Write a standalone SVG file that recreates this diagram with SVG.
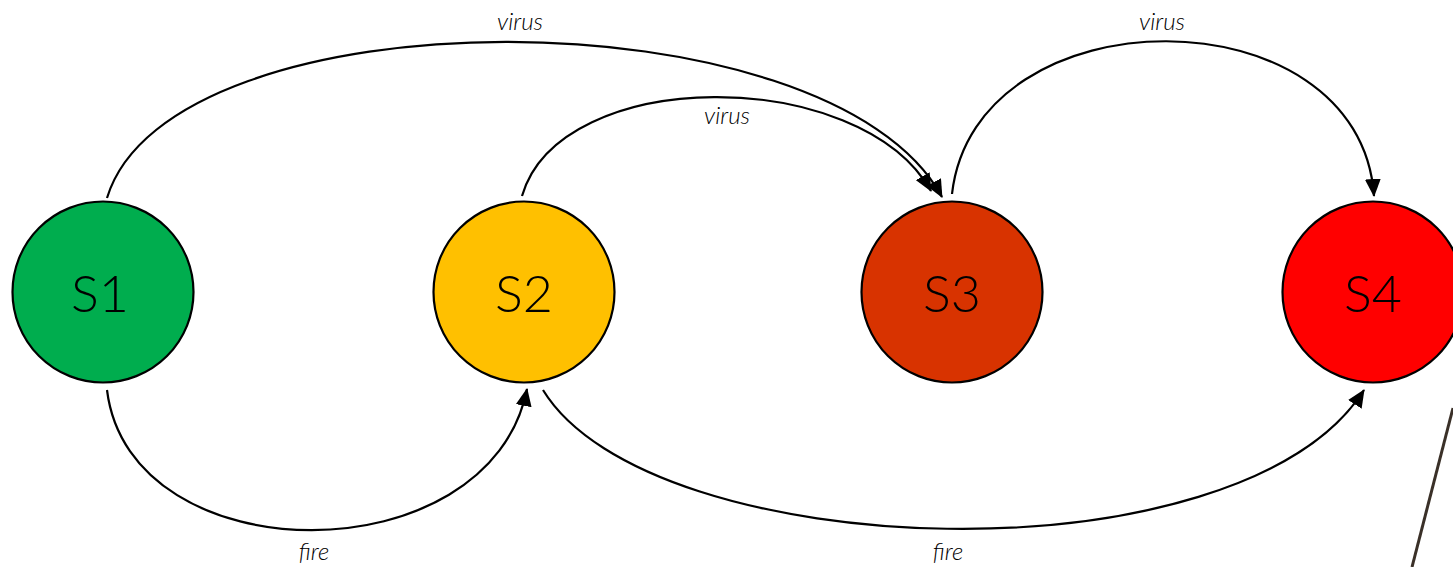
<svg xmlns="http://www.w3.org/2000/svg" width="1453" height="567" viewBox="0 0 1453 567">
<style>
.node{stroke:#000;stroke-width:2.2}
.lbl{font-family:"Lato","Liberation Sans",sans-serif;font-size:52px;fill:#000;text-anchor:middle;font-weight:300}
.edge{fill:none;stroke:#000;stroke-width:2.2;marker-end:url(#arr)}
.el{font-family:"Lato","Liberation Sans",sans-serif;font-size:24px;font-style:italic;fill:#000;text-anchor:middle;font-weight:300}
</style>
<defs>
<marker id="arr" markerUnits="userSpaceOnUse" markerWidth="18" markerHeight="16" viewBox="0 0 18 16" refX="17" refY="8" orient="auto">
<path d="M0,0 L18,8 L0,16 Z" fill="#000"/>
</marker>
</defs>
<g id="connectors">
<path class="edge" d="M107,198 C170,-10 830,-10 942,197"/>
<path class="edge" d="M522,196 C560,65 860,65 931,191"/>
<path class="edge" d="M952,194 C975,-10 1360,-10 1374,196"/>
<path class="edge" d="M107,390 C130,577 490,577 527,389"/>
<path class="edge" d="M543,390 C650,565 1240,585 1364,390"/>
<text class="el" x="520" y="30">virus</text>
<text class="el" x="727" y="124">virus</text>
<text class="el" x="1162" y="30">virus</text>
<text class="el" x="314" y="560">fire</text>
<text class="el" x="948" y="560">fire</text>
</g>
<g id="S1"><circle class="node" cx="103" cy="292" r="90.5" fill="#00AD4E"/><text class="lbl" x="100" y="312">S1</text></g>
<g id="S2"><circle class="node" cx="524" cy="292" r="90.5" fill="#FFC000"/><text class="lbl" x="524" y="312">S2</text></g>
<g id="S3"><circle class="node" cx="952" cy="292" r="90.5" fill="#D83300"/><text class="lbl" x="952" y="312">S3</text></g>
<g id="S4"><circle class="node" cx="1373" cy="292" r="90.5" fill="#FF0000"/><text class="lbl" x="1373" y="312">S4</text></g>
<line x1="1453" y1="408" x2="1412" y2="567" stroke="#3A3028" stroke-width="3"/>
</svg>
